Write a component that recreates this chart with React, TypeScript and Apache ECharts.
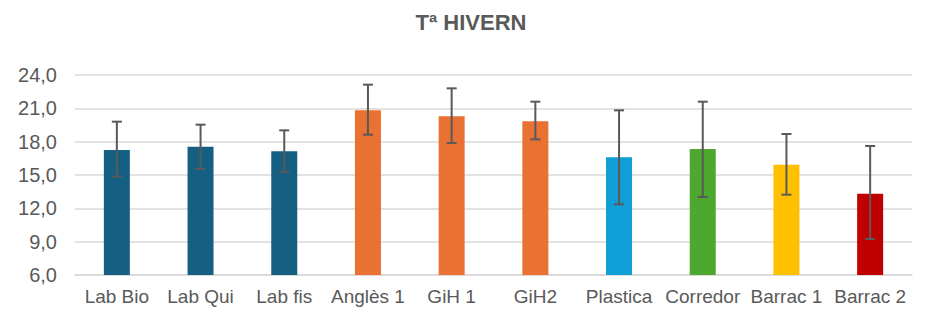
import React, { useEffect, useRef } from "react";
import * as echarts from "echarts";

const categories = ["Lab Bio", "Lab Qui", "Lab fis", "Anglès 1", "GiH 1", "GiH2", "Plastica", "Corredor", "Barrac 1", "Barrac 2"];
const means = [17.25, 17.55, 17.13, 20.82, 20.28, 19.83, 16.59, 17.34, 15.93, 13.32];
const errLow = [14.85, 15.54, 15.27, 18.63, 17.88, 18.21, 12.36, 13.02, 13.23, 9.24];
const errHigh = [19.8, 19.53, 19.02, 23.13, 22.8, 21.6, 20.82, 21.6, 18.69, 17.61];
const barColors = ["#156082", "#156082", "#156082", "#E97132", "#E97132", "#E97132", "#0F9ED5", "#4EA72E", "#FFC000", "#C00000"];
const yTicks = { min: 6, max: 24, interval: 3 };

export default function App() {
  const ref = useRef<HTMLDivElement>(null);
  useEffect(() => {
    if (!ref.current) return;
    const chart = echarts.init(ref.current, null, { renderer: "svg" });
    const font = "'Liberation Sans', Arial, sans-serif";
    chart.setOption({
      animation: false,
      backgroundColor: "#ffffff",
      title: {
        text: "Tª HIVERN",
        left: "center",
        top: 6,
        textStyle: { fontFamily: font, fontSize: 22, fontWeight: "bold", color: "#595959" },
      },
      grid: { left: 75, right: 30, top: 75, bottom: 49, containLabel: false },
      xAxis: {
        type: "category",
        data: categories,
        axisLine: { show: true, lineStyle: { color: "#D9D9D9", width: 1.5 } },
        axisTick: { show: false },
        axisLabel: { fontFamily: font, fontSize: 19, color: "#595959", margin: 12, interval: 0 },
      },
      yAxis: {
        type: "value",
        min: yTicks.min,
        max: yTicks.max,
        interval: yTicks.interval,
        axisLine: { show: false },
        axisTick: { show: false },
        splitLine: { lineStyle: { color: "#D9D9D9", width: 1.5 } },
        axisLabel: {
          fontFamily: font,
          fontSize: 20,
          color: "#595959",
          margin: 18,
          formatter: (v: number) => v.toFixed(1).replace(".", ","),
        },
      },
      series: [
        {
          type: "bar",
          data: means.map((v, i) => ({ value: v, itemStyle: { color: barColors[i] } })),
          barWidth: 26,
        },
        {
          type: "custom",
          data: categories.map((_, i) => [i, errLow[i], errHigh[i]]),
          z: 10,
          renderItem: (params: any, api: any) => {
            const x = api.value(0);
            const lo = api.coord([x, api.value(1)]);
            const hi = api.coord([x, api.value(2)]);
            const cap = 5;
            const style = { stroke: "#595959", lineWidth: 2, fill: "none" };
            return {
              type: "group",
              children: [
                { type: "line", shape: { x1: lo[0], y1: lo[1], x2: hi[0], y2: hi[1] }, style },
                { type: "line", shape: { x1: hi[0] - cap, y1: hi[1], x2: hi[0] + cap, y2: hi[1] }, style },
                { type: "line", shape: { x1: lo[0] - cap, y1: lo[1], x2: lo[0] + cap, y2: lo[1] }, style },
              ],
            };
          },
        },
      ],
      graphic: [
        { type: "line", shape: { x1: 939.5, y1: 0, x2: 939.5, y2: 324 }, style: { stroke: "#D9D9D9", lineWidth: 1 } },
      ],
    });
    return () => chart.dispose();
  }, []);
  return <div ref={ref} style={{ width: 942, height: 324, margin: -8 }} />;
}
